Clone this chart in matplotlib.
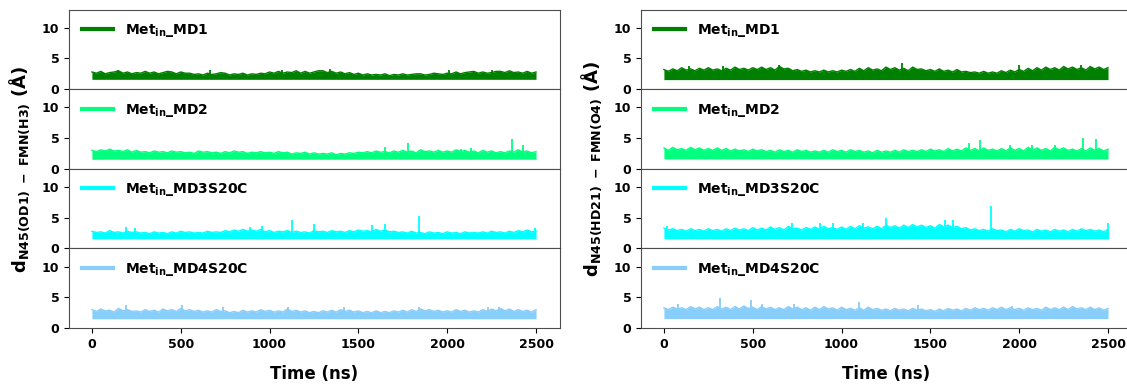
import numpy as np
import matplotlib
matplotlib.use("Agg")
import matplotlib.pyplot as plt

plt.rcParams['font.family'] = ['DejaVu Sans']
plt.rcParams['font.weight'] = 'bold'
plt.rcParams['mathtext.default'] = 'bf'

labels = [r'Met$_{in}$_MD1', r'Met$_{in}$_MD2', r'Met$_{in}$_MD3S20C', r'Met$_{in}$_MD4S20C']
colors = ['green', 'springgreen', 'cyan', 'lightskyblue']

ylabel_left = r'$d_{N45(OD1)\ -\ FMN(H3)}$ (Å)'
ylabel_right = r'$d_{N45(HD21)\ -\ FMN(O4)}$ (Å)'

# upper edge of each trace, read every 25 ns from 0 to 2500 ns (Å)
# ---- left column: N45(OD1) - FMN(H3) ----
left_md1_hi = [2.8, 2.6, 2.9, 2.5, 2.7, 2.8, 3.0, 2.6, 2.8, 2.5,
               2.7, 2.6, 2.9, 2.6, 2.8, 2.5, 2.7, 2.9, 2.8, 2.5,
               2.8, 2.6, 2.6, 2.4, 2.5, 2.3, 2.6, 2.4, 2.5, 2.7,
               2.6, 2.3, 2.5, 2.4, 2.6, 2.3, 2.5, 2.4, 2.6, 2.5,
               2.8, 2.6, 2.9, 2.6, 2.8, 2.7, 3.0, 2.6, 2.9, 2.6,
               2.8, 3.0, 3.0, 2.7, 2.9, 2.6, 2.8, 2.5, 2.7, 2.4,
               2.6, 2.3, 2.5, 2.3, 2.4, 2.3, 2.5, 2.2, 2.4, 2.3,
               2.5, 2.3, 2.4, 2.5, 2.5, 2.3, 2.4, 2.6, 2.5, 2.4,
               2.6, 2.5, 2.8, 2.5, 2.7, 2.8, 2.9, 2.6, 2.8, 2.6,
               2.7, 2.9, 2.9, 2.7, 3.0, 2.7, 2.8, 2.6, 2.9, 2.6,
               2.8]
left_md2_hi = [3.0, 2.8, 3.1, 2.9, 3.2, 2.9, 3.0, 2.8, 3.1, 2.7,
               3.0, 2.7, 2.8, 2.6, 2.9, 2.7, 2.8, 2.6, 2.9, 2.7,
               2.8, 2.6, 2.7, 2.5, 2.9, 2.7, 2.8, 2.6, 2.7, 2.5,
               2.8, 2.6, 2.9, 2.7, 2.8, 2.5, 2.7, 2.6, 2.8, 2.6,
               2.7, 2.5, 2.8, 2.6, 2.7, 2.4, 2.6, 2.5, 2.7, 2.4,
               2.6, 2.4, 2.5, 2.4, 2.6, 2.3, 2.5, 2.4, 2.6, 2.5,
               2.7, 2.6, 2.8, 2.6, 2.9, 2.7, 2.8, 2.6, 2.9, 2.7,
               3.0, 2.7, 2.9, 2.6, 3.1, 2.8, 2.9, 2.7, 3.0, 2.7,
               2.9, 2.7, 3.1, 2.8, 3.0, 2.7, 2.9, 2.6, 3.0, 2.7,
               2.9, 2.6, 2.8, 2.6, 2.9, 2.7, 3.1, 2.7, 2.9, 2.6,
               2.8]
left_md3_hi = [2.8, 2.6, 2.7, 2.5, 2.9, 2.6, 2.7, 2.5, 2.8, 2.6,
               2.7, 2.5, 2.6, 2.4, 2.7, 2.5, 2.6, 2.4, 2.7, 2.5,
               2.8, 2.6, 2.7, 2.5, 2.6, 2.5, 2.8, 2.6, 2.7, 2.6,
               2.9, 2.7, 3.0, 2.8, 3.1, 2.8, 3.0, 2.8, 3.1, 2.7,
               2.9, 2.6, 2.8, 2.7, 2.9, 2.6, 2.8, 2.6, 2.7, 2.5,
               2.9, 2.7, 2.8, 2.6, 2.9, 2.7, 2.8, 2.6, 2.9, 2.7,
               3.0, 2.8, 2.9, 2.7, 3.1, 2.8, 3.0, 2.7, 2.8, 2.6,
               2.7, 2.5, 2.8, 2.5, 2.6, 2.4, 2.7, 2.5, 2.6, 2.4,
               2.7, 2.5, 2.6, 2.4, 2.7, 2.5, 2.6, 2.5, 2.7, 2.5,
               2.8, 2.6, 2.7, 2.5, 2.8, 2.6, 2.9, 2.7, 3.0, 2.7,
               2.9]
left_md4_hi = [3.0, 2.7, 3.1, 2.8, 2.9, 2.6, 3.2, 2.8, 3.0, 2.7,
               2.8, 2.6, 3.0, 2.7, 2.9, 2.6, 3.1, 2.8, 3.0, 2.7,
               3.2, 2.8, 3.0, 2.7, 2.9, 2.6, 2.8, 2.6, 3.0, 2.7,
               2.8, 2.5, 2.7, 2.5, 2.9, 2.6, 2.8, 2.6, 3.0, 2.7,
               2.9, 2.6, 2.8, 2.6, 3.1, 2.7, 2.9, 2.6, 2.8, 2.5,
               2.7, 2.5, 2.8, 2.6, 2.9, 2.6, 3.0, 2.7, 2.9, 2.6,
               2.8, 2.5, 2.7, 2.5, 2.8, 2.5, 2.7, 2.5, 2.8, 2.6,
               2.9, 2.6, 3.0, 2.7, 3.1, 2.8, 3.0, 2.7, 2.9, 2.6,
               2.8, 2.6, 3.0, 2.7, 2.9, 2.6, 2.8, 2.6, 3.0, 2.7,
               3.1, 2.8, 3.2, 2.8, 3.1, 2.7, 3.0, 2.7, 2.9, 2.6,
               3.0]
left_lo = [1.6, 1.55, 1.55, 1.5]

left_spike_t = [[145, 665, 1070, 1340, 2010, 2250],
                [1650, 1778, 2075, 2136, 2367, 2426],
                [194, 245, 889, 957, 1124, 1253, 1574, 1652, 1840, 2494],
                [194, 505, 740, 1104, 1421, 1840, 2228, 2289]]
left_spike_y = [[3.2, 3.2, 3.2, 3.3, 3.1, 3.1],
                [3.5, 4.2, 3.3, 3.4, 4.8, 3.9],
                [3.5, 3.3, 3.5, 3.6, 4.6, 3.9, 3.8, 3.9, 5.3, 3.4],
                [3.7, 3.8, 3.4, 3.5, 3.4, 3.5, 3.4, 3.5]]

# ---- right column: N45(HD21) - FMN(O4) ----
right_md1_hi = [3.2, 2.9, 3.3, 3.0, 3.5, 3.1, 3.3, 3.0, 3.4, 3.1,
                3.5, 3.1, 3.3, 3.0, 3.4, 3.1, 3.6, 3.2, 3.4, 3.1,
                3.5, 3.2, 3.6, 3.2, 3.5, 3.1, 3.7, 3.3, 3.4, 3.0,
                3.2, 2.9, 3.1, 2.8, 3.0, 2.8, 3.1, 2.8, 3.0, 2.8,
                3.1, 2.9, 3.2, 2.9, 3.4, 3.0, 3.5, 3.1, 3.3, 3.0,
                3.6, 3.2, 3.5, 3.1, 3.4, 3.0, 3.6, 3.2, 3.3, 3.0,
                3.2, 2.9, 3.3, 2.9, 3.1, 2.8, 3.2, 2.8, 2.9, 2.7,
                2.8, 2.6, 2.9, 2.6, 2.8, 2.6, 3.0, 2.7, 3.1, 2.8,
                3.2, 2.9, 3.4, 3.0, 3.5, 3.1, 3.6, 3.2, 3.5, 3.1,
                3.7, 3.3, 3.6, 3.2, 3.5, 3.1, 3.7, 3.3, 3.6, 3.2,
                3.5]
right_md2_hi = [3.4, 3.0, 3.5, 3.1, 3.3, 3.0, 3.5, 3.1, 3.4, 3.0,
                3.3, 3.0, 3.4, 3.0, 3.3, 2.9, 3.2, 2.9, 3.1, 2.8,
                3.2, 2.9, 3.1, 2.8, 3.0, 2.7, 3.1, 2.8, 3.0, 2.7,
                3.1, 2.8, 3.0, 2.7, 2.9, 2.7, 3.0, 2.7, 3.1, 2.8,
                3.0, 2.7, 3.1, 2.8, 3.0, 2.7, 2.9, 2.6, 3.0, 2.7,
                2.9, 2.7, 3.0, 2.7, 3.1, 2.8, 3.0, 2.8, 3.1, 2.8,
                3.2, 2.9, 3.1, 2.8, 3.3, 2.9, 3.2, 2.9, 3.4, 3.0,
                3.3, 2.9, 3.4, 3.0, 3.2, 2.9, 3.3, 2.9, 3.4, 3.0,
                3.3, 2.9, 3.5, 3.0, 3.4, 3.0, 3.3, 2.9, 3.5, 3.1,
                3.4, 3.0, 3.2, 2.9, 3.3, 2.9, 3.4, 3.0, 3.3, 2.9,
                3.2]
right_md3_hi = [3.3, 3.0, 3.2, 2.9, 3.1, 2.8, 3.2, 2.9, 3.1, 2.8,
                3.2, 2.9, 3.1, 2.8, 3.2, 2.9, 3.3, 3.0, 3.2, 2.9,
                3.4, 3.0, 3.3, 3.0, 3.5, 3.1, 3.4, 3.0, 3.6, 3.2,
                3.3, 3.0, 3.4, 3.1, 3.5, 3.1, 3.6, 3.2, 3.4, 3.1,
                3.5, 3.1, 3.6, 3.2, 3.7, 3.3, 3.5, 3.2, 3.6, 3.2,
                3.8, 3.4, 3.7, 3.3, 3.8, 3.4, 3.9, 3.5, 3.8, 3.4,
                3.7, 3.3, 3.9, 3.5, 3.8, 3.4, 3.6, 3.2, 3.4, 3.0,
                3.2, 2.9, 3.1, 2.8, 3.2, 2.9, 3.0, 2.7, 3.1, 2.8,
                3.2, 2.9, 3.0, 2.7, 3.1, 2.8, 3.0, 2.7, 3.1, 2.8,
                3.0, 2.7, 3.1, 2.8, 3.2, 2.9, 3.1, 2.8, 3.0, 2.7,
                3.1]
right_md4_hi = [3.3, 3.0, 3.4, 3.1, 3.3, 3.0, 3.5, 3.1, 3.4, 3.0,
                3.3, 3.0, 3.5, 3.1, 3.4, 3.0, 3.5, 3.1, 3.6, 3.2,
                3.4, 3.0, 3.5, 3.1, 3.4, 3.0, 3.3, 3.0, 3.5, 3.1,
                3.4, 3.0, 3.3, 2.9, 3.4, 3.0, 3.5, 3.1, 3.3, 2.9,
                3.4, 3.0, 3.2, 2.9, 3.3, 2.9, 3.4, 3.0, 3.2, 2.9,
                3.1, 2.8, 3.2, 2.9, 3.1, 2.8, 3.2, 2.9, 3.1, 2.8,
                3.0, 2.7, 3.1, 2.8, 3.2, 2.9, 3.1, 2.8, 3.2, 2.9,
                3.3, 3.0, 3.2, 2.9, 3.3, 3.0, 3.4, 3.0, 3.3, 3.0,
                3.2, 2.9, 3.3, 3.0, 3.2, 2.9, 3.4, 3.0, 3.3, 3.0,
                3.4, 3.0, 3.5, 3.1, 3.3, 3.0, 3.4, 3.0, 3.3, 2.9,
                3.2]
right_lo = [1.55, 1.6, 1.55, 1.55]

right_spike_t = [[140, 330, 650, 1340, 2000, 2350],
                 [1720, 1780, 1950, 2070, 2200, 2360, 2430],
                 [20, 720, 880, 950, 1120, 1250, 1580, 1630, 1840, 2500],
                 [80, 314, 490, 550, 730, 1100, 1430, 1960]]
right_spike_y = [[3.8, 3.7, 4.0, 4.3, 3.9, 4.0],
                 [4.2, 4.7, 3.8, 3.9, 3.9, 5.0, 4.8],
                 [3.7, 4.2, 4.1, 4.1, 4.2, 5.0, 4.7, 4.6, 6.9, 4.1],
                 [3.9, 4.9, 4.6, 4.0, 4.0, 4.2, 3.7, 3.6]]

columns = [
    dict(hi=[left_md1_hi, left_md2_hi, left_md3_hi, left_md4_hi], lo=left_lo,
         st=left_spike_t, sy=left_spike_y, ylabel=ylabel_left, x0=69),
    dict(hi=[right_md1_hi, right_md2_hi, right_md3_hi, right_md4_hi], lo=right_lo,
         st=right_spike_t, sy=right_spike_y, ylabel=ylabel_right, x0=641),
]

W, H = 1127, 385
fig = plt.figure(figsize=(W / 100, H / 100), dpi=100)

ax_w = 491 / W
top_px, bot_px = 9.5, 328
ph = (bot_px - top_px) / 4 / H

for col in columns:
    left = col['x0'] / W
    for i in range(4):
        bottom = 1 - bot_px / H + (3 - i) * ph
        ax = fig.add_axes([left, bottom, ax_w, ph])
        c = colors[i]
        hi = col['hi'][i]
        lo = col['lo'][i]
        t = np.linspace(0, 2500, len(hi))
        ax.fill_between(t, lo, hi, color=c, lw=0)
        ax.plot(t, hi, color=c, lw=1.0, label=labels[i])
        ax.vlines(col['st'][i], lo, col['sy'][i], color=c, lw=1.3)

        ax.set_xlim(-129, 2635)
        ax.set_ylim(0, 13)
        ax.set_yticks([0, 5, 10])
        ax.set_xticks([0, 500, 1000, 1500, 2000, 2500])
        ax.tick_params(labelsize=9, width=0.8)
        for sp in ax.spines.values():
            sp.set_color('0.3')
        if i < 3:
            ax.tick_params(axis='x', bottom=False, labelbottom=False)
        else:
            ax.set_xlabel('Time (ns)', fontsize=12, fontweight='bold', labelpad=10)
        leg = ax.legend(loc='upper left', frameon=False, fontsize=10, handlelength=2.3)
        for ln in leg.get_lines():
            ln.set_linewidth(3)

    fig.text(col['x0'] / W - 49 / W, 1 - 169 / H, col['ylabel'], rotation=90,
             ha='center', va='center', fontsize=13, fontweight='bold')

fig.savefig('out.png', dpi=100)
